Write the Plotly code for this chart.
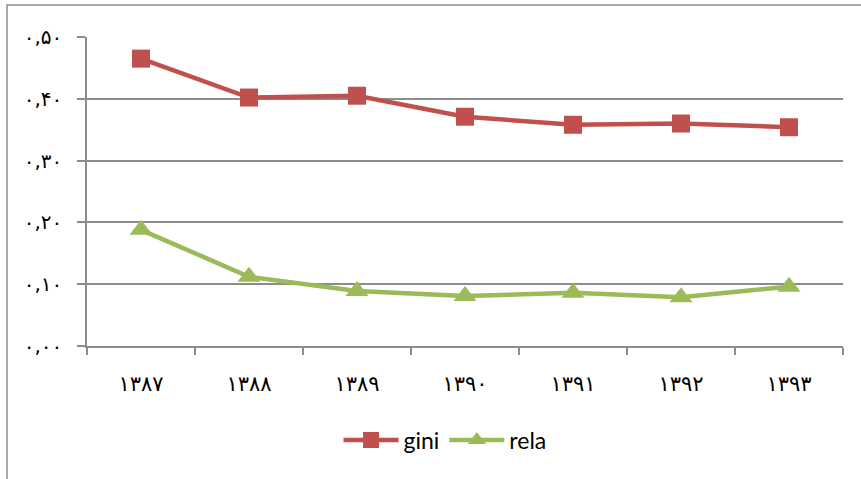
import plotly.graph_objects as go

years = ["۱۳۸۷", "۱۳۸۸", "۱۳۸۹", "۱۳۹۰", "۱۳۹۱", "۱۳۹۲", "۱۳۹۳"]
gini = [0.465, 0.402, 0.405, 0.371, 0.358, 0.360, 0.354]
rela = [0.188, 0.112, 0.089, 0.081, 0.086, 0.079, 0.096]
y_ticks = [0.0, 0.1, 0.2, 0.3, 0.4, 0.5]
y_tick_text = ["۰,۰۰", "۰,۱۰", "۰,۲۰", "۰,۳۰", "۰,۴۰", "۰,۵۰"]

W, H = 861, 479
L, R, T, B = 87, 18, 37, 133
pw, ph = W - L - R, H - T - B

fig = go.Figure()
fig.add_trace(go.Scatter(
    x=years, y=gini, name="gini", mode="lines+markers",
    line=dict(color="#C0504D", width=4.5),
    marker=dict(symbol="square", size=18, color="#C0504D"),
))
fig.add_trace(go.Scatter(
    x=years, y=rela, name="rela", mode="lines+markers",
    line=dict(color="#9BBB59", width=4.5),
    marker=dict(symbol="triangle-up", size=20, color="#9BBB59"),
))

grid = "#8C8C8C"
fig.update_layout(
    width=W, height=H,
    margin=dict(l=L, r=R, t=T, b=B),
    paper_bgcolor="white", plot_bgcolor="white",
    font=dict(family="DejaVu Sans", color="black"),
    showlegend=True,
    legend=dict(orientation="h", x=(445 - L) / pw, xanchor="center",
                y=(346 - 440) / ph, yanchor="middle",
                font=dict(family="Lato", size=23, color="black"),
                itemwidth=55, itemsizing="trace", tracegroupgap=0),
    xaxis=dict(
        type="category", showgrid=False, showline=True, linecolor=grid, linewidth=1.5,
        ticks="outside", tickson="boundaries", ticklen=7, tickcolor=grid, tickwidth=1.5,
        tickfont=dict(size=21, family="DejaVu Sans"), ticklabelstandoff=18,
        range=[-0.5, 6.5], zeroline=False,
    ),
    yaxis=dict(
        range=[0, 0.5], tickvals=y_ticks, ticktext=y_tick_text,
        showgrid=True, gridcolor=grid, gridwidth=1.5,
        showline=True, linecolor=grid, linewidth=1.5,
        ticks="outside", ticklen=8, tickcolor=grid, tickwidth=1.5,
        tickfont=dict(size=20, family="DejaVu Sans"), ticklabelstandoff=11,
        zeroline=False,
    ),
    shapes=[dict(
        type="rect", xref="paper", yref="paper",
        x0=(7 - L) / pw, x1=(W + 20 - L) / pw,
        y0=(346 - (H + 20)) / ph, y1=(346 - 5) / ph,
        line=dict(color="#8C8C8C", width=1.5), fillcolor="rgba(0,0,0,0)", layer="below",
    )],
)

fig.write_html("out.html", config={"displayModeBar": False},
               post_script="document.body.style.margin='0';")
